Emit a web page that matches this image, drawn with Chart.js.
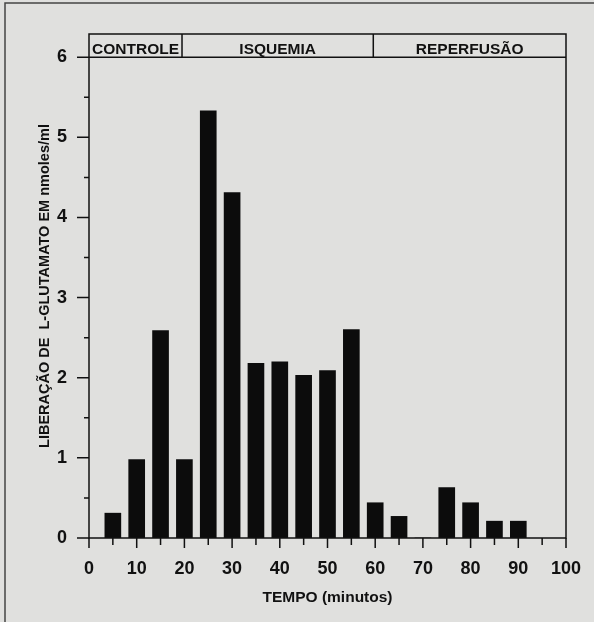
<!DOCTYPE html>
<html>
<head>
<meta charset="utf-8">
<script src="https://cdn.jsdelivr.net/npm/chart.js@4"></script>
<style>
  html, body { margin: 0; padding: 0; background: #e0e0de; }
  canvas { display: block; }
</style>
</head>
<body>
<canvas id="c" width="594" height="622"></canvas>
<script>
// ---- data ----
const times = [5, 10, 15, 20, 25, 30, 35, 40, 45, 50, 55, 60, 65, 70, 75, 80, 85, 90];
const glutamate = [0.31, 0.98, 2.59, 0.98, 5.33, 4.31, 2.18, 2.20, 2.03, 2.09, 2.60, 0.44, 0.27, 0, 0.63, 0.44, 0.21, 0.21];
const xTickLabels = [0, 10, 20, 30, 40, 50, 60, 70, 80, 90, 100];
const xMinorTicks = [0, 5, 10, 15, 20, 25, 30, 35, 40, 45, 50, 55, 60, 65, 70, 75, 80, 85, 90, 95, 100];
const yTickValues = [0, 0.5, 1, 1.5, 2, 2.5, 3, 3.5, 4, 4.5, 5, 5.5, 6];
const phaseNames = ['CONTROLE', 'ISQUEMIA', 'REPERFUSÃO'];
const phaseBounds = [0, 19.5, 59.6, 100];
const yTop = 6;
const xTitle = 'TEMPO (minutos)';
const yTitle = 'LIBERAÇÃO DE  L-GLUTAMATO EM nmoles/ml';

const INK = '#111';
const FONT = '"Liberation Sans", Arial, sans-serif';

const decor = {
  id: 'decor',
  beforeDraw(chart) {
    const c = chart.ctx;
    c.save();
    c.fillStyle = '#e0e0de';
    c.fillRect(0, 0, chart.width, chart.height);
    c.strokeStyle = '#444';
    c.lineWidth = 1.5;
    c.beginPath();
    c.moveTo(5, chart.height);
    c.lineTo(5, 3);
    c.lineTo(chart.width, 3);
    c.stroke();
    c.restore();
  },
  afterDraw(chart) {
    const c = chart.ctx;
    const a = chart.chartArea;
    const xs = chart.scales.x, ys = chart.scales.y;
    c.save();
    c.strokeStyle = INK;
    c.lineWidth = 1.5;
    // plot box
    c.strokeRect(a.left, a.top, a.right - a.left, a.bottom - a.top);
    // header band
    const yh = ys.getPixelForValue(yTop);
    c.beginPath();
    c.moveTo(a.left, yh); c.lineTo(a.right, yh);
    for (let i = 1; i < phaseBounds.length - 1; i++) {
      const px = xs.getPixelForValue(phaseBounds[i]);
      c.moveTo(px, a.top); c.lineTo(px, yh);
    }
    c.stroke();
    c.fillStyle = INK;
    c.font = 'bold 15.5px ' + FONT;
    c.textAlign = 'center';
    c.textBaseline = 'alphabetic';
    for (let i = 0; i < phaseNames.length; i++) {
      const mid = (xs.getPixelForValue(phaseBounds[i]) + xs.getPixelForValue(phaseBounds[i + 1])) / 2;
      c.fillText(phaseNames[i], mid, yh - 3);
    }
    // x ticks
    c.beginPath();
    xMinorTicks.forEach(v => {
      const px = xs.getPixelForValue(v);
      c.moveTo(px, a.bottom);
      c.lineTo(px, a.bottom + (v % 10 === 0 ? 10 : 7));
    });
    // y ticks
    yTickValues.forEach(v => {
      const py = ys.getPixelForValue(v);
      c.moveTo(a.left, py);
      c.lineTo(a.left - (Number.isInteger(v) ? 12 : 5), py);
    });
    c.stroke();
    c.restore();
  }
};

new Chart(document.getElementById('c'), {
  type: 'bar',
  data: {
    datasets: [{
      data: times.map((t, i) => ({ x: t, y: glutamate[i] })),
      backgroundColor: '#0c0c0c',
      borderWidth: 0,
      barThickness: 16
    }]
  },
  options: {
    responsive: false,
    animation: false,
    devicePixelRatio: 1,
    layout: { padding: { top: 34, right: 28, left: 0, bottom: 0 } },
    plugins: { legend: { display: false }, tooltip: { enabled: false } },
    scales: {
      x: {
        type: 'linear',
        min: 0, max: 100,
        offset: false,
        grid: { display: false, drawTicks: false },
        border: { display: false },
        afterBuildTicks: s => { s.ticks = xTickLabels.map(v => ({ value: v })); },
        afterFit: s => { s.height = 84; s.paddingLeft = 0; s.paddingRight = 0; },
        ticks: { color: INK, font: { family: FONT, size: 18, weight: 'bold' }, padding: 20, maxRotation: 0, autoSkip: false },
        title: { display: true, text: xTitle, color: INK, font: { family: FONT, size: 15.5, weight: 'bold' }, padding: { top: 0, bottom: 15 } }
      },
      y: {
        min: 0, max: 6.29,
        grid: { display: false, drawTicks: false },
        border: { display: false },
        afterBuildTicks: s => { s.ticks = yTickValues.map(v => ({ value: v })); },
        afterFit: s => { s.width = 89; s.paddingTop = 0; s.paddingBottom = 0; },
        ticks: { color: INK, font: { family: FONT, size: 18, weight: 'bold' }, padding: 22, autoSkip: false,
                 callback: v => Number.isInteger(v) ? String(v) : '' },
        title: { display: true, text: yTitle, color: INK, font: { family: FONT, size: 14.5, weight: 'bold' }, padding: { top: 36, bottom: 0 } }
      }
    }
  },
  plugins: [decor]
});
</script>
</body>
</html>
